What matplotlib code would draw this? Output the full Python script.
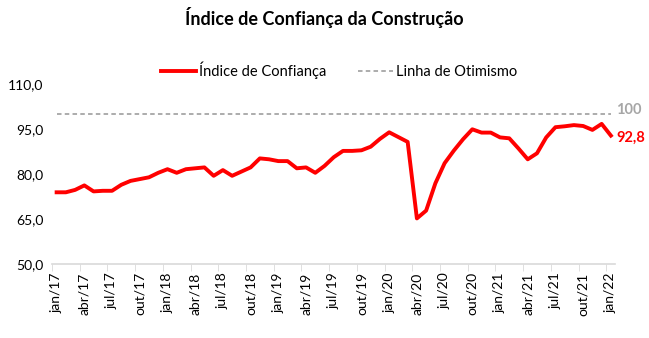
import numpy as np
import matplotlib.pyplot as plt

plt.rcParams['font.family'] = ['Lato', 'DejaVu Sans']

# monthly index, jan/17 .. jan/22
meses = ['jan', 'fev', 'mar', 'abr', 'mai', 'jun', 'jul', 'ago', 'set', 'out', 'nov', 'dez']
labels = [f"{meses[i % 12]}/{17 + i // 12}" for i in range(61)]
indice = [73.9, 73.9, 74.7, 76.2, 74.2, 74.4, 74.4, 76.4, 77.7, 78.3, 78.9, 80.4,
          81.6, 80.4, 81.6, 81.9, 82.2, 79.4, 81.3, 79.4, 80.8, 82.2, 85.2, 84.9,
          84.3, 84.3, 81.9, 82.2, 80.4, 82.7, 85.6, 87.7, 87.7, 87.9, 89.1, 91.7,
          93.9, 92.3, 90.7, 65.2, 67.8, 76.9, 83.6, 87.8, 91.6, 94.9, 93.8, 93.8,
          92.2, 91.9, 88.5, 84.9, 86.9, 92.2, 95.6, 95.9, 96.3, 96.0, 94.7, 96.7,
          92.8]
otimismo = 100
yticks = [50, 65, 80, 95, 110]

x = np.arange(len(indice))

fig = plt.figure(figsize=(6.49, 3.38), dpi=100)
ax = fig.add_axes([52 / 649, 1 - 264 / 338, (615.5 - 52) / 649, 180 / 338])

ax.plot(x, indice, color='#FF0000', lw=2.8, label='Índice de Confiança', solid_joinstyle='round')
ax.plot(x, [otimismo] * len(x), color='#A6A6A6', lw=1.3, ls=(0, (2.5, 1.8)), label='Linha de Otimismo')

ax.set_xlim(-0.5, 60.5)
ax.set_ylim(50, 110)
ax.set_yticks(yticks)
ax.set_yticklabels([f"{v:.1f}".replace('.', ',') for v in yticks], fontsize=10)
ax.tick_params(axis='y', length=0, pad=6)

ax.set_xticks(x[::3])
ax.set_xticklabels(labels[::3], rotation=90, fontsize=10)
ax.set_xticks(np.arange(-0.5, 61, 3), minor=True)
ax.tick_params(axis='x', which='major', length=0, pad=6)
ax.tick_params(axis='x', which='minor', length=5, color='#D9D9D9')

for s in ['top', 'right', 'left']:
    ax.spines[s].set_visible(False)
ax.spines['bottom'].set_color('#D9D9D9')
ax.spines['bottom'].set_linewidth(1.2)

ax.text(x[-1] + 0.6, otimismo + 1.4, '100', color='#A6A6A6', fontsize=10.5,
        fontweight='bold', va='center', ha='left')
ax.text(x[-1] + 0.6, indice[-1] - 0.8, f"{indice[-1]:.1f}".replace('.', ','), color='#FF0000',
        fontsize=10.5, fontweight='bold', va='center', ha='left', clip_on=False)

fig.text(0.5, 1 - 18 / 338, 'Índice de Confiança da Construção', ha='center', va='center',
         fontsize=13, fontweight='bold')
fig.legend(loc='center', bbox_to_anchor=(339 / 649, 1 - 70 / 338), ncol=2, frameon=False,
           fontsize=10.5, handlelength=2.4, columnspacing=2.2, handletextpad=0.2)

fig.savefig('out.png', dpi=100)
